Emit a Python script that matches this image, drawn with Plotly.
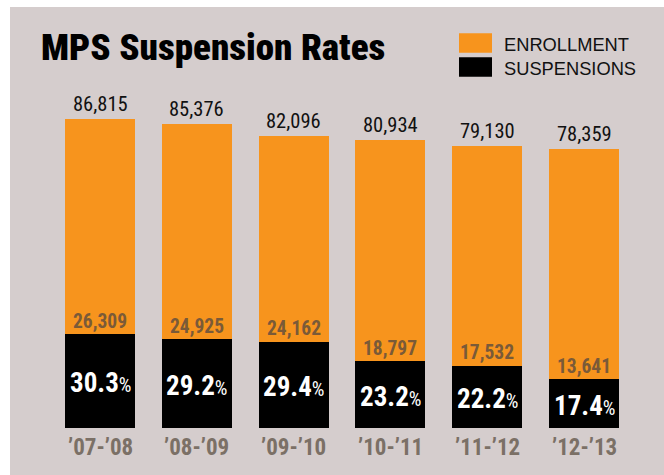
import plotly.graph_objects as go

categories = ["’07-’08", "’08-’09", "’09-’10", "’10-’11", "’11-’12", "’12-’13"]
enrollment = [86815, 85376, 82096, 80934, 79130, 78359]
suspensions = [26309, 24925, 24162, 18797, 17532, 13641]
rates = [30.3, 29.2, 29.4, 23.2, 22.2, 17.4]
legend_labels = ["ENROLLMENT", "SUSPENSIONS"]

W, H = 664, 475
ORANGE = "#f7941d"
BLACK = "#000000"
BG = "#d5cdcd"
SUSP_TXT = "#7a5a38"
CAT_TXT = "#7b7066"
REG = "Liberation Sans, Arial, Helvetica, sans-serif"
COND = "Roboto Condensed, Roboto, sans-serif"

x = list(range(len(categories)))

px0, dx = 100.0, 96.8
k = 0.00356
y0pix = 428.0
xr = [(0 - px0) / dx, (W - px0) / dx]
yr = [-(H - y0pix) / k, y0pix / k]

def py(p):
    return (H - p) / H

def pxp(p):
    return p / W

fig = go.Figure()
fig.add_trace(go.Bar(x=x, y=enrollment, width=0.723, marker=dict(color=ORANGE, line=dict(width=0)),
                     name=legend_labels[0], hoverinfo="skip"))
fig.add_trace(go.Bar(x=x, y=suspensions, width=0.723, marker=dict(color=BLACK, line=dict(width=0)),
                     name=legend_labels[1], hoverinfo="skip"))

ann = []
ann.append(dict(text="MPS Suspension Rates", x=pxp(39), y=py(47), xref="paper", yref="paper",
                xanchor="left", yanchor="middle", showarrow=False,
                font=dict(family=COND, size=37, color="#000000", weight=900)))
for i, (lab, col) in enumerate(zip(legend_labels, [ORANGE, BLACK])):
    top = 33.3 + i * 24
    fig.add_shape(type="rect", xref="paper", yref="paper", x0=pxp(459), x1=pxp(492),
                  y0=py(top + 19.4), y1=py(top), fillcolor=col, line=dict(width=0), layer="above")
    ann.append(dict(text=lab, x=pxp(502), y=py(top + 11), xref="paper", yref="paper",
                    xanchor="left", yanchor="middle", showarrow=False,
                    font=dict(family=REG, size=18.3, color="#111111")))

for i in x:
    ann.append(dict(text=f"{enrollment[i]:,}", x=i, y=enrollment[i], xref="x", yref="y",
                    yshift=15, xanchor="center", yanchor="middle", showarrow=False,
                    font=dict(family=COND, size=20.5, color="#111111")))
    ann.append(dict(text=f"<b>{suspensions[i]:,}</b>", x=i, y=suspensions[i], xref="x", yref="y",
                    yshift=13, xanchor="center", yanchor="middle", showarrow=False,
                    font=dict(family=COND, size=19.5, color=SUSP_TXT)))
    ann.append(dict(text=f"<b>{rates[i]:.1f}</b><span style='font-size:20px'>%</span>", x=i,
                    y=suspensions[i] / 2, xref="x", yref="y",
                    yshift=-2, xanchor="center", yanchor="middle", showarrow=False,
                    font=dict(family=COND, size=27, color="#ffffff")))
    ann.append(dict(text=f"<b>{categories[i]}</b>", x=i, y=py(447), xref="x", yref="paper",
                    xanchor="center", yanchor="middle", showarrow=False,
                    font=dict(family=COND, size=23, color=CAT_TXT)))

fig.add_shape(type="rect", xref="paper", yref="paper", x0=pxp(10), x1=1, y0=0, y1=py(7),
              fillcolor=BG, line=dict(width=0), layer="below")

fig.update_layout(
    width=W, height=H, autosize=False,
    margin=dict(l=0, r=0, t=0, b=0, pad=0),
    paper_bgcolor="#ffffff", plot_bgcolor="rgba(0,0,0,0)",
    barmode="overlay", showlegend=False, bargap=0,
    xaxis=dict(range=xr, visible=False, fixedrange=True),
    yaxis=dict(range=yr, visible=False, fixedrange=True),
    annotations=ann,
)

fig.write_html("out.html", config={"displayModeBar": False})
